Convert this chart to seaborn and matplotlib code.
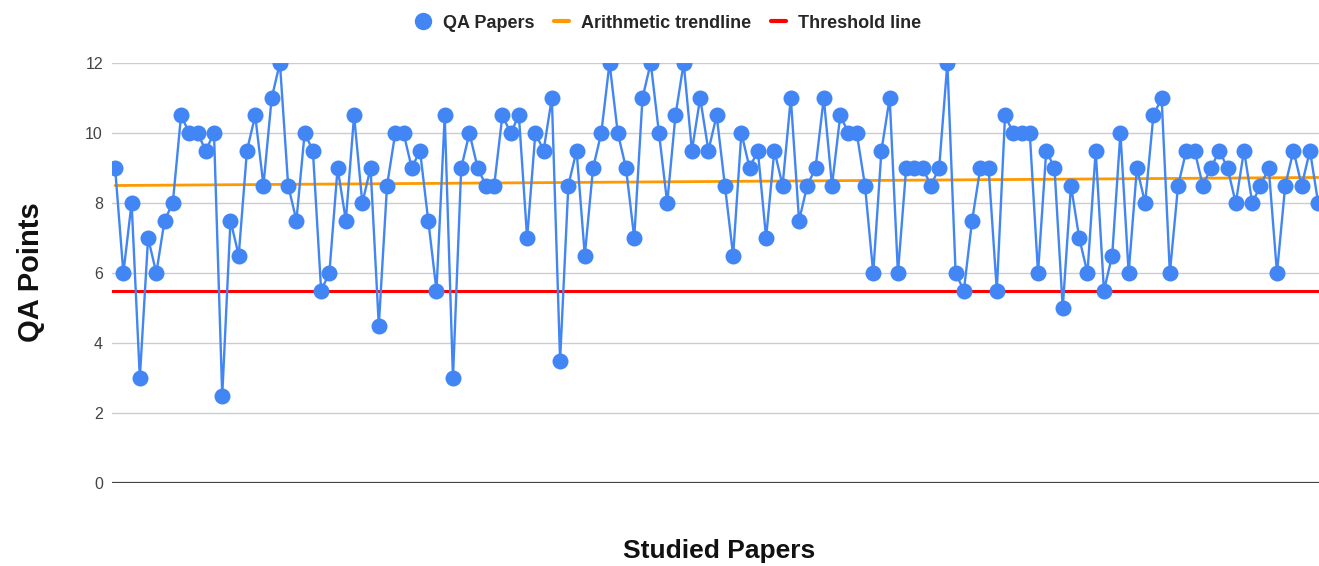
import seaborn as sns
import matplotlib.pyplot as plt
from matplotlib.lines import Line2D
import numpy as np
import pandas as pd

# QA points per studied paper, read left to right
qa_points = [
    9, 6, 8, 3, 7, 6, 7.5, 8, 10.5, 10, 10, 9.5, 10, 2.5, 7.5, 6.5, 9.5, 10.5, 8.5, 11,
    12, 8.5, 7.5, 10, 9.5, 5.5, 6, 9, 7.5, 10.5, 8, 9, 4.5, 8.5, 10, 10, 9, 9.5, 7.5, 5.5,
    10.5, 3, 9, 10, 9, 8.5, 8.5, 10.5, 10, 10.5, 7, 10, 9.5, 11, 3.5, 8.5, 9.5, 6.5, 9, 10,
    12, 10, 9, 7, 11, 12, 10, 8, 10.5, 12, 9.5, 11, 9.5, 10.5, 8.5, 6.5, 10, 9, 9.5, 7,
    9.5, 8.5, 11, 7.5, 8.5, 9, 11, 8.5, 10.5, 10, 10, 8.5, 6, 9.5, 11, 6, 9, 9, 9, 8.5,
    9, 12, 6, 5.5, 7.5, 9, 9, 5.5, 10.5, 10, 10, 10, 6, 9.5, 9, 5, 8.5, 7, 6, 9.5,
    5.5, 6.5, 10, 6, 9, 8, 10.5, 11, 6, 8.5, 9.5, 9.5, 8.5, 9, 9.5, 9, 8, 9.5, 8, 8.5,
    9, 6, 8.5, 9.5, 8.5, 9.5, 8,
]
papers = list(range(len(qa_points)))

# trendline end values and threshold
trend_start = 8.5
trend_end = 8.73
threshold = 5.5

y_ticks = [0, 2, 4, 6, 8, 10, 12]

blue = '#4285F4'
orange = '#FF9900'
red = '#FF0000'

df = pd.DataFrame({'paper': papers, 'qa': qa_points})
trend = pd.DataFrame({'paper': [papers[0], papers[-1]], 'qa': [trend_start, trend_end]})

sns.set_style('white')
plt.rcParams['font.family'] = ['Liberation Sans', 'DejaVu Sans']

fig = plt.figure(figsize=(13.19, 5.66), dpi=100)
ax = fig.add_axes([0.0849, 0.1466, 0.9151, 0.7421])

for t in y_ticks[1:]:
    ax.axhline(t, color='#cccccc', lw=1, zorder=0)
ax.axhline(0, color='#444444', lw=1.6, zorder=1)

sns.lineplot(data=df, x='paper', y='qa', ax=ax, color=blue, lw=1.7,
             marker='o', markersize=11.5, markeredgewidth=0, zorder=3)
sns.lineplot(data=trend, x='paper', y='qa', ax=ax, color=orange, lw=2, zorder=2)
ax.axhline(threshold, color=red, lw=2.2, zorder=2)

ax.set_xlim(-0.38, papers[-1] + 0.1)
ax.set_ylim(0, 12)
ax.set_yticks(y_ticks)
ax.set_xticks([])
ax.tick_params(axis='y', length=0, pad=6.5, labelsize=11.5, labelcolor='#444444')
for s in ax.spines.values():
    s.set_visible(False)

ax.set_xlabel('')
ax.set_ylabel('')
fig.text(0.0235, 0.519, 'QA Points', rotation=90, ha='center', va='center',
         fontsize=21, fontweight='bold', color='#111111')
fig.text(0.545, 0.026, 'Studied Papers', ha='center', va='center',
         fontsize=19, fontweight='bold', color='#111111')

handles = [
    Line2D([], [], color=blue, marker='o', markersize=11.5, lw=0),
    Line2D([], [], color=orange, lw=3),
    Line2D([], [], color=red, lw=3),
]
labels = ['QA Papers', 'Arithmetic trendline', 'Threshold line']
fig.legend(handles, labels, loc='center', bbox_to_anchor=(0.507, 0.959), ncol=3,
           frameon=False, handlelength=0.8, handletextpad=0.7, columnspacing=1.1,
           prop={'size': 13, 'weight': 'bold'})

fig.savefig('out.png', dpi=100)
